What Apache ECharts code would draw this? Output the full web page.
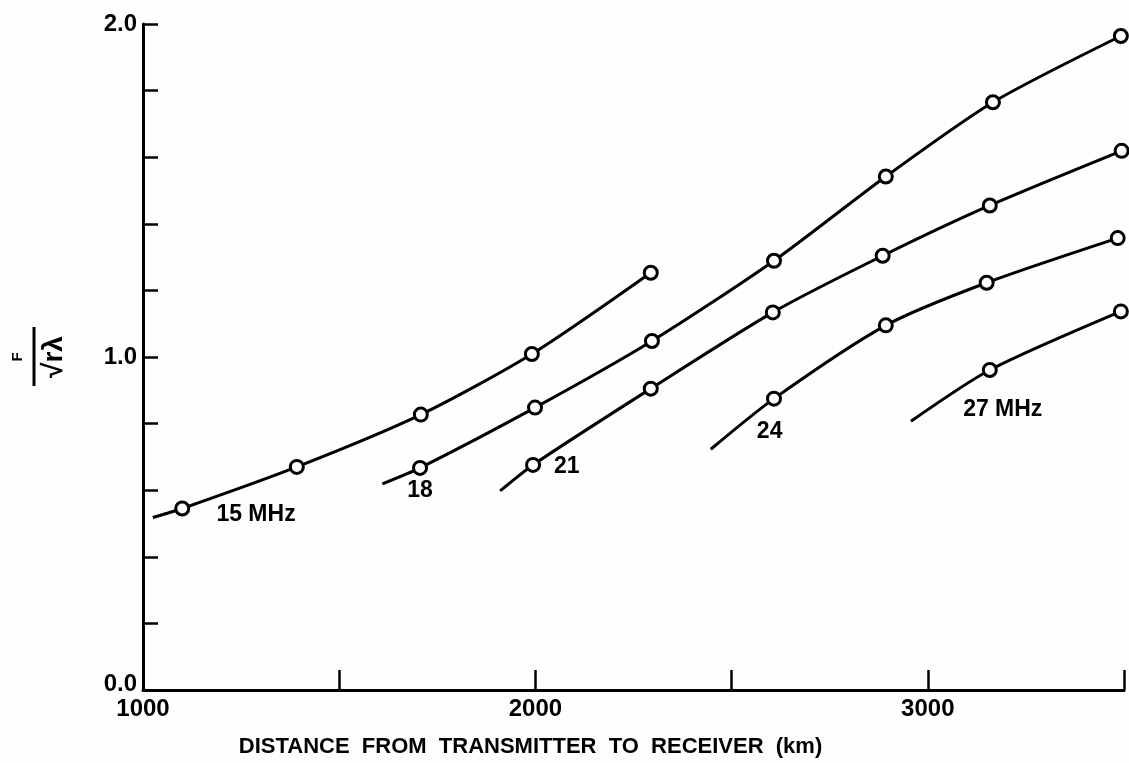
<!DOCTYPE html>
<html>
<head>
<meta charset="utf-8">
<script src="https://cdn.jsdelivr.net/npm/echarts@6/dist/echarts.min.js"></script>
<style>
html,body{margin:0;padding:0;background:#fefefe;}
#c{width:1129px;height:763px;}
</style>
</head>
<body>
<div id="c"></div>
<script>
// ---- data (first point of each curve is the unmarked start of the drawn line) ----
const s15x = [1025, 1100, 1392, 1708, 1991, 2294];
const s15y = [0.518, 0.545, 0.670, 0.827, 1.009, 1.253];
const s18x = [1610, 1706, 1999, 2297, 2608, 2893, 3166, 3492];
const s18y = [0.619, 0.667, 0.848, 1.048, 1.289, 1.542, 1.765, 1.964];
const s21x = [1910, 1994, 2294, 2605, 2885, 3158, 3494];
const s21y = [0.598, 0.676, 0.905, 1.134, 1.304, 1.455, 1.619];
const s24x = [2447, 2608, 2893, 3150, 3484];
const s24y = [0.723, 0.875, 1.095, 1.223, 1.357];
const s27x = [2957, 3158, 3492];
const s27y = [0.807, 0.961, 1.137];

const curveNames = ['15 MHz', '18 MHz', '21 MHz', '24 MHz', '27 MHz'];
const labelText = ['15 MHz', '18', '21', '24', '27 MHz'];
const labelX = [1288, 1706, 2080, 2597, 3191];
const labelY = [0.527, 0.598, 0.670, 0.777, 0.842];

const xTickLabels = [1000, 2000, 3000];
const yTickLabels = [0, 1, 2];
const xTitle = 'DISTANCE  FROM  TRANSMITTER  TO  RECEIVER  (km)';

const FONT = '"Liberation Sans", Arial, sans-serif';
const chart = echarts.init(document.getElementById('c'), null, {renderer: 'canvas'});

function mkSeries(name, xs, ys) {
  return {
    name: name,
    type: 'line',
    smooth: 0.25,
    data: xs.map((x, i) => i === 0 ? {value: [x, ys[i]], symbol: 'none'} : [x, ys[i]]),
    symbol: 'circle',
    symbolSize: 13,
    itemStyle: {color: '#fefefe', borderColor: '#000', borderWidth: 3},
    lineStyle: {color: '#000', width: 3},
    z: 3,
    clip: false
  };
}

const option = {
  animation: false,
  backgroundColor: '#fefefe',
  grid: {left: 143, right: 5, top: 24, bottom: 67, containLabel: false},
  xAxis: {
    type: 'value', min: 1000, max: 3500, interval: 500,
    axisLine: {show: true, lineStyle: {color: '#000', width: 3}},
    axisTick: {show: true, inside: true, length: 20, lineStyle: {color: '#000', width: 2.5}},
    splitLine: {show: false},
    axisLabel: {
      color: '#000', fontFamily: FONT, fontWeight: 'bold', fontSize: 24, margin: 7,
      formatter: v => xTickLabels.indexOf(v) >= 0 ? String(v) : ''
    },
    name: xTitle, nameLocation: 'middle', nameGap: 46,
    nameTextStyle: {color: '#000', fontFamily: FONT, fontWeight: 'bold', fontSize: 22, padding: [0, 206, 0, 0]}
  },
  yAxis: {
    type: 'value', min: 0, max: 2, interval: 0.2,
    axisLine: {show: true, lineStyle: {color: '#000', width: 3}},
    axisTick: {show: true, inside: true, length: 15, lineStyle: {color: '#000', width: 2.5}},
    splitLine: {show: false},
    axisLabel: {
      color: '#000', fontFamily: FONT, fontWeight: 'bold', fontSize: 24, margin: 6,
      formatter: v => {
        const r = Math.round(v);
        if (Math.abs(v - r) > 1e-6 || yTickLabels.indexOf(r) < 0) return '';
        return r === 0 ? '{z|0.0}' : r.toFixed(1);
      },
      rich: {z: {fontFamily: FONT, fontWeight: 'bold', fontSize: 24, color: '#000', padding: [0, 0, 12, 0]}}
    }
  },
  series: [
    mkSeries(curveNames[0], s15x, s15y),
    mkSeries(curveNames[1], s18x, s18y),
    mkSeries(curveNames[2], s21x, s21y),
    mkSeries(curveNames[3], s24x, s24y),
    mkSeries(curveNames[4], s27x, s27y),
    {
      name: 'labels', type: 'scatter', symbolSize: 1,
      itemStyle: {color: '#fefefe'},
      data: labelX.map((x, i) => [x, labelY[i], labelText[i]]),
      label: {
        show: true, position: 'inside', color: '#000', opacity: 1,
        fontFamily: FONT, fontWeight: 'bold', fontSize: 23,
        formatter: p => p.data[2]
      },
      z: 4
    }
  ],
  graphic: [{
    type: 'group', x: 42, y: 357, rotation: Math.PI / 2,
    children: [
      {type: 'text', x: 0, y: -24, style: {text: 'F', font: 'bold 15px ' + FONT, fill: '#000', align: 'center', verticalAlign: 'middle'}},
      {type: 'line', shape: {x1: -29, y1: -8, x2: 30, y2: -8}, style: {stroke: '#000', lineWidth: 3}},
      {type: 'text', x: 0, y: 12, style: {text: '√rλ', font: 'bold 28px ' + FONT, fill: '#000', align: 'center', verticalAlign: 'middle'}}
    ]
  }]
};
chart.setOption(option);
</script>
</body>
</html>
